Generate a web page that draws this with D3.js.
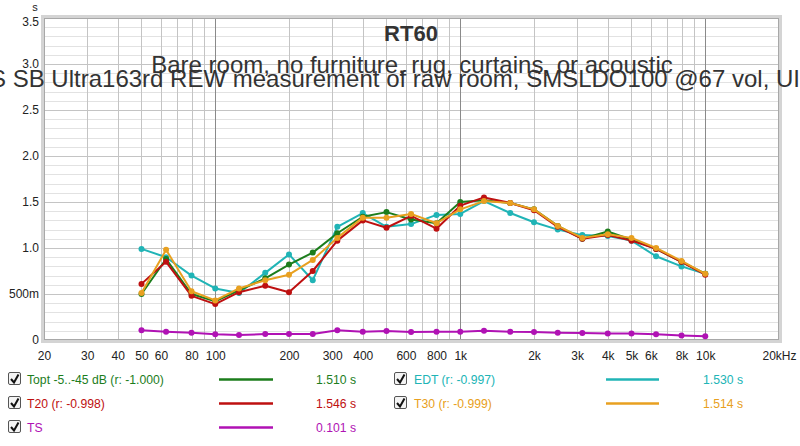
<!DOCTYPE html>
<html><head><meta charset="utf-8">
<script src="https://cdn.jsdelivr.net/npm/d3@7"></script>
<style>
html,body{margin:0;padding:0;background:#fff;}
svg{display:block;font-family:"Liberation Sans",Arial,sans-serif;}
</style></head>
<body><svg id="c" width="800" height="446"></svg>
<script>
const freqs = [50,63,80,100,125,160,200,250,315,400,500,630,800,1000,1250,1600,2000,2500,3150,4000,5000,6300,8000,10000];
const topt = [0.50,0.88,0.50,0.42,0.54,0.67,0.82,0.95,1.16,1.34,1.39,1.31,1.27,1.50,1.52,1.49,1.42,1.24,1.10,1.18,1.09,0.99,0.85,0.72];
const t20  = [0.61,0.85,0.48,0.39,0.52,0.59,0.52,0.75,1.08,1.30,1.22,1.35,1.21,1.46,1.55,1.49,1.41,1.23,1.10,1.14,1.08,0.99,0.85,0.71];
const edt  = [0.99,0.90,0.70,0.56,0.51,0.73,0.93,0.65,1.23,1.38,1.23,1.26,1.36,1.37,1.51,1.38,1.28,1.20,1.14,1.13,1.08,0.91,0.80,0.72];
const t30  = [0.51,0.98,0.53,0.43,0.56,0.65,0.71,0.87,1.11,1.33,1.33,1.37,1.27,1.42,1.51,1.49,1.42,1.24,1.11,1.15,1.11,1.00,0.86,0.72];
const ts   = [0.105,0.09,0.08,0.062,0.054,0.065,0.065,0.065,0.105,0.09,0.098,0.087,0.09,0.09,0.10,0.09,0.087,0.08,0.076,0.072,0.072,0.062,0.05,0.04];

const xTickVals = [20,30,40,50,60,80,100,200,300,400,600,800,1000,2000,3000,4000,5000,6000,8000,10000,20000];
const xTickLabels = ["20","30","40","50","60","80","100","200","300","400","600","800","1k","2k","3k","4k","5k","6k","8k","10k","20kHz"];
const yTickVals = [0,0.5,1.0,1.5,2.0,2.5,3.0,3.5];
const yTickLabels = ["0","500m","1.0","1.5","2.0","2.5","3.0","3.5"];

const seriesNames = ["Topt -5..-45 dB (r: -1.000)","EDT (r: -0.997)","T20 (r: -0.998)","T30 (r: -0.999)","TS"];
const seriesValues = ["1.510 s","1.530 s","1.546 s","1.514 s","0.101 s"];
const seriesColors = ["#1c7d1c","#20b4b6","#be1010","#e8a020","#b012b4"];
const seriesData = [topt, edt, t20, t30, ts];

const title = "RT60";
const subtitle1 = "Bare room, no furniture, rug, curtains, or acoustic";
const subtitle2 = "S SB Ultra163rd REW measurement of raw room, SMSLDO100 @67 vol, UI";

const svg = d3.select("#c");
const L = 44, R = 779, T = 18, B = 340;
const x = d3.scaleLog().domain([20,20000]).range([L,R]);
const y = d3.scaleLinear().domain([0,3.5]).range([B,T]);

// frame with shadow
svg.append("rect").attr("x",L-3).attr("y",T-3).attr("width",R-L+6).attr("height",B-T+6).attr("fill","#d4d4d4");
svg.append("rect").attr("x",L).attr("y",T).attr("width",R-L).attr("height",B-T).attr("fill","#fff");

// grid
const g = svg.append("g");
const minorY = d3.range(1,35).map(i=>i/10).filter(v=>Math.abs(v*2-Math.round(v*2))>1e-6);
g.selectAll(".ym").data(minorY).enter().append("line")
  .attr("x1",L).attr("x2",R).attr("y1",d=>Math.round(y(d))+0.5).attr("y2",d=>Math.round(y(d))+0.5)
  .attr("stroke","#e2e2e2");
g.selectAll(".yM").data([0.5,1,1.5,2,2.5,3]).enter().append("line")
  .attr("x1",L).attr("x2",R).attr("y1",d=>Math.round(y(d))+0.5).attr("y2",d=>Math.round(y(d))+0.5)
  .attr("stroke","#c4c4c4");
const vlines = [];
[10,100,1000,10000].forEach(dec=>{for(let k=1;k<=9;k++){const f=dec*k; if(f>20&&f<20000) vlines.push(f);}});
g.selectAll(".v").data(vlines).enter().append("line")
  .attr("x1",d=>Math.round(x(d))+0.5).attr("x2",d=>Math.round(x(d))+0.5).attr("y1",T).attr("y2",B)
  .attr("stroke",d=>[100,1000,10000].includes(d)?"#8a8a8a":"#c4c4c4");

svg.append("rect").attr("x",L+0.5).attr("y",T+0.5).attr("width",R-L-1).attr("height",B-T-1)
  .attr("fill","none").attr("stroke","#a8a8a8");

// titles
svg.append("text").attr("x",411).attr("y",41).attr("text-anchor","middle")
  .attr("font-size",22).attr("font-weight","bold").attr("fill","#333").text(title);
svg.append("text").attr("x",412).attr("y",73).attr("text-anchor","middle")
  .attr("font-size",24).attr("fill","#333").text(subtitle1);
svg.append("text").attr("x",395).attr("y",87).attr("text-anchor","middle")
  .attr("font-size",24).attr("fill","#333").text(subtitle2);

// axes
const xAxis = d3.axisBottom(x).tickValues(xTickVals).tickFormat((d,i)=>xTickLabels[i]).tickSize(0).tickPadding(11);
const xa = svg.append("g").attr("transform",`translate(0,${B})`).call(xAxis);
xa.select(".domain").remove();
xa.selectAll("text").attr("font-size",12).attr("fill","#222").attr("font-family","Liberation Sans, Arial, sans-serif");
const yAxis = d3.axisLeft(y).tickValues(yTickVals).tickFormat((d,i)=>yTickLabels[i]).tickSize(0).tickPadding(5);
const ya = svg.append("g").attr("transform",`translate(${L},0)`).call(yAxis);
ya.select(".domain").remove();
ya.selectAll("text").attr("font-size",12).attr("fill","#222").attr("font-family","Liberation Sans, Arial, sans-serif");
ya.selectAll(".tick").filter(d=>d===3.5).select("text").attr("dy","0.62em");
svg.append("text").attr("x",35).attr("y",10.5).attr("text-anchor","middle").attr("font-size",11).attr("fill","#222").text("s");

// series
const line = d3.line().x((d,i)=>x(freqs[i])).y(d=>y(d));
const order = [4,1,0,2,3];
order.forEach(si=>{
  const sg = svg.append("g");
  sg.append("path").datum(seriesData[si]).attr("d",line).attr("fill","none")
    .attr("stroke",seriesColors[si]).attr("stroke-width",2).attr("stroke-linejoin","round");
  sg.selectAll("circle").data(seriesData[si]).enter().append("circle")
    .attr("cx",(d,i)=>x(freqs[i])).attr("cy",d=>y(d)).attr("r",3).attr("fill",seriesColors[si]);
});

// legend
const legendPos = [
  {c:0,r:0},{c:1,r:0},{c:0,r:1},{c:1,r:1},{c:0,r:2}
];
const colX = [{box:8,text:27,l1:219,l2:273,val:356},{box:394,text:414,l1:606,l2:659,val:743}];
const rowY = [379,403,427];
seriesNames.forEach((name,i)=>{
  const p = legendPos[i], cx = colX[p.c], cy = rowY[p.r];
  const lg = svg.append("g");
  lg.append("rect").attr("x",cx.box+0.5).attr("y",cy-6.5).attr("width",12).attr("height",12).attr("rx",1.5)
    .attr("fill","#f4f4f4").attr("stroke","#555");
  lg.append("path").attr("d",`M${cx.box+3},${cy} L${cx.box+6},${cy+3.5} L${cx.box+10.5},${cy-4.5}`)
    .attr("fill","none").attr("stroke","#111").attr("stroke-width",2);
  lg.append("text").attr("x",cx.text).attr("y",cy+4.5).attr("font-size",12.2).attr("fill",seriesColors[i]).text(name);
  lg.append("line").attr("x1",cx.l1).attr("x2",cx.l2).attr("y1",cy+0.5).attr("y2",cy+0.5)
    .attr("stroke",seriesColors[i]).attr("stroke-width",2.5);
  lg.append("text").attr("x",cx.val).attr("y",cy+4.5).attr("text-anchor","end").attr("font-size",12.2)
    .attr("fill",seriesColors[i]).text(seriesValues[i]);
});
</script></body></html>
